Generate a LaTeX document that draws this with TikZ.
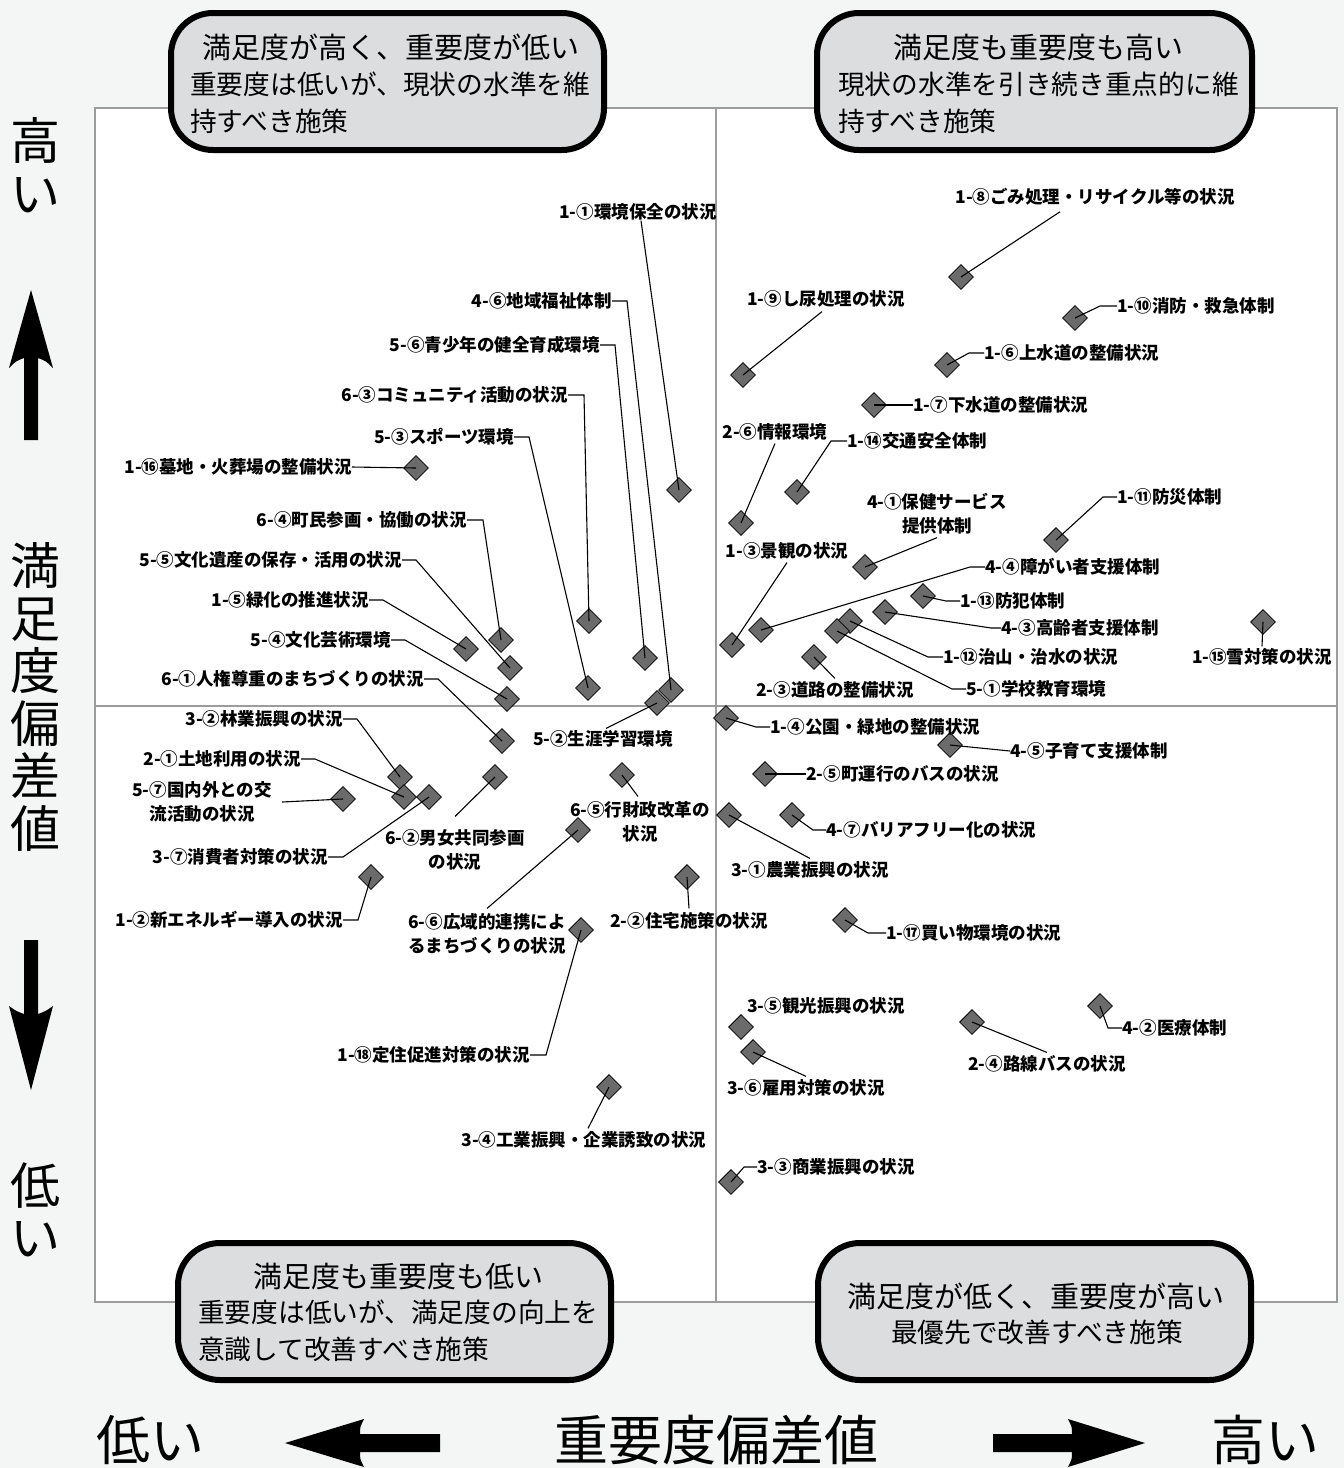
\documentclass[tikz,border=0pt]{standalone}
\usepackage{fontspec}
\setmainfont{Noto Sans CJK JP}
\usetikzlibrary{shapes.geometric}
\definecolor{bgc}{HTML}{F4F5F5}
\definecolor{boxfill}{HTML}{DCDDDF}
\definecolor{dia}{HTML}{6B6B6B}
\definecolor{framec}{HTML}{9C9C9C}
\newcommand\labfont{\fontsize{17.5}{24}\selectfont\bfseries}
\newcommand\boxfontA{\fontsize{29}{37}\selectfont}
\newcommand\boxfontB{\fontsize{26.7}{37}\selectfont}
\newcommand\axfont{\fontsize{50}{52.5}\selectfont}
\newcommand\axfontb{\fontsize{54}{56}\selectfont}
\tikzset{
  pt/.style={shape=diamond, draw=black, line width=0.8pt, fill=dia, minimum width=25pt, minimum height=25pt, inner sep=0pt},
  lab/.style={inner sep=0pt, font=\labfont, align=center},
  lead/.style={draw=black, line width=1.1pt},
  callout/.style={draw=black, line width=6pt, fill=boxfill, rounded corners=42pt, inner sep=0pt},
  boxtxtA/.style={inner sep=0pt, font=\boxfontA},
  boxtxtB/.style={inner sep=0pt, font=\boxfontB},
  axv/.style={inner sep=0pt, font=\axfont, align=center},
  axh/.style={inner sep=0pt, font=\axfontb},
}
\begin{document}
\begin{tikzpicture}[x=1pt,y=-1pt]
\useasboundingbox (0,0) rectangle (1344,1468);
\fill[bgc] (0,0) rectangle (1344,1468);
% plot area
\draw[framec, line width=1.5pt, fill=white] (95,108) rectangle (1337,1302);
\coordinate (vt) at (716,108);
\coordinate (vb) at (716,1302);
\coordinate (hl) at (95,706);
\coordinate (hr) at (1337,706);
\draw[framec, line width=1.5pt] (vt) -- (vb);
\draw[framec, line width=1.5pt] (hl) -- (hr);

% ---------- diamonds ----------
\node[pt] (d1) at (679,490) {};
\node[pt] (d2) at (671,690) {};
\node[pt] (d3) at (645,658) {};
\node[pt] (d4) at (589,621) {};
\node[pt] (d5) at (588,688) {};
\node[pt] (d6) at (416,468) {};
\node[pt] (d7) at (501,640) {};
\node[pt] (d8) at (510,668) {};
\node[pt] (d9) at (466,649) {};
\node[pt] (d10) at (507,699) {};
\node[pt] (d11) at (502,741) {};
\node[pt] (d12) at (657,703) {};
\node[pt] (d13) at (400,777) {};
\node[pt] (d14) at (404,797) {};
\node[pt] (d15) at (343,799) {};
\node[pt] (d16) at (429,797) {};
\node[pt] (d17) at (495,777) {};
\node[pt] (d18) at (371,877) {};
\node[pt] (d19) at (622,775) {};
\node[pt] (d20) at (578,830) {};
\node[pt] (d21) at (687,877) {};
\node[pt] (d22) at (581,930) {};
\node[pt] (d23) at (609,1087) {};
\node[pt] (d24) at (726,718) {};
\node[pt] (d25) at (950,745) {};
\node[pt] (d26) at (765,774) {};
\node[pt] (d27) at (792,815) {};
\node[pt] (d28) at (729,815) {};
\node[pt] (d29) at (845,920) {};
\node[pt] (d30) at (741,1027) {};
\node[pt] (d31) at (753,1052) {};
\node[pt] (d32) at (1100,1006) {};
\node[pt] (d33) at (972,1022) {};
\node[pt] (d34) at (731,1182) {};
\node[pt] (d35) at (961,277) {};
\node[pt] (d36) at (743,375) {};
\node[pt] (d37) at (1075,318) {};
\node[pt] (d38) at (947,365) {};
\node[pt] (d39) at (874,405) {};
\node[pt] (d40) at (741,523) {};
\node[pt] (d41) at (797,492) {};
\node[pt] (d42) at (865,567) {};
\node[pt] (d43) at (1056,540) {};
\node[pt] (d44) at (732,645) {};
\node[pt] (d45) at (761,630) {};
\node[pt] (d46) at (923,596) {};
\node[pt] (d47) at (885,612) {};
\node[pt] (d48) at (850,621) {};
\node[pt] (d49) at (837,631) {};
\node[pt] (d50) at (814,657) {};
\node[pt] (d51) at (1263,622) {};

% ---------- labels ----------
\node[lab] (l1) at (638,212) {1-①環境保全の状況};
\node[lab, anchor=east] (l2) at (612,301) {4-⑥地域福祉体制};
\node[lab, anchor=east] (l3) at (600,345) {5-⑥青少年の健全育成環境};
\node[lab, anchor=east] (l4) at (568,395) {6-③コミュニティ活動の状況};
\node[lab, anchor=east] (l5) at (514,437) {5-③スポーツ環境};
\node[lab, anchor=east] (l6) at (352,467) {1-⑯墓地・火葬場の整備状況};
\node[lab, anchor=east] (l7) at (467,520) {6-④町民参画・協働の状況};
\node[lab, anchor=east] (l8) at (402,560) {5-⑤文化遺産の保存・活用の状況};
\node[lab, anchor=east] (l9) at (369,600) {1-⑤緑化の推進状況};
\node[lab, anchor=east] (l10) at (391,640) {5-④文化芸術環境};
\node[lab, anchor=east] (l11) at (424,679) {6-①人権尊重のまちづくりの状況};
\node[lab] (l12) at (603,739) {5-②生涯学習環境};
\node[lab, anchor=east] (l13) at (343,719) {3-②林業振興の状況};
\node[lab, anchor=east] (l14) at (301,759) {2-①土地利用の状況};
\node[lab] (l15) at (202,802) {5-⑦国内外との交\\流活動の状況};
\node[lab, anchor=east] (l16) at (328,857) {3-⑦消費者対策の状況};
\node[lab] (l17) at (455,850) {6-②男女共同参画\\の状況};
\node[lab, anchor=east] (l18) at (343,920) {1-②新エネルギー導入の状況};
\node[lab] (l19) at (640,822) {6-⑤行財政改革の\\状況};
\node[lab] (l20) at (487,934) {6-⑥広域的連携によ\\るまちづくりの状況};
\node[lab] (l21) at (689,921) {2-②住宅施策の状況};
\node[lab, anchor=east] (l22) at (530,1055) {1-⑱定住促進対策の状況};
\node[lab] (l23) at (584,1140) {3-④工業振興・企業誘致の状況};
\node[lab, anchor=west] (l24) at (770,727) {1-④公園・緑地の整備状況};
\node[lab, anchor=west] (l25) at (1010,751) {4-⑤子育て支援体制};
\node[lab, anchor=west] (l26) at (806,774) {2-⑤町運行のバスの状況};
\node[lab, anchor=west] (l27) at (826,830) {4-⑦バリアフリー化の状況};
\node[lab] (l28) at (810,870) {3-①農業振興の状況};
\node[lab, anchor=west] (l29) at (886,933) {1-⑰買い物環境の状況};
\node[lab] (l30) at (826,1006) {3-⑤観光振興の状況};
\node[lab] (l31) at (806,1088) {3-⑥雇用対策の状況};
\node[lab, anchor=west] (l32) at (1122,1028) {4-②医療体制};
\node[lab] (l33) at (1047,1064) {2-④路線バスの状況};
\node[lab, anchor=west] (l34) at (757,1167) {3-③商業振興の状況};
\node[lab] (l35) at (1095,197) {1-⑧ごみ処理・リサイクル等の状況};
\node[lab] (l36) at (826,299) {1-⑨し尿処理の状況};
\node[lab, anchor=west] (l37) at (1117,306) {1-⑩消防・救急体制};
\node[lab, anchor=west] (l38) at (984,353) {1-⑥上水道の整備状況};
\node[lab, anchor=west] (l39) at (913,405) {1-⑦下水道の整備状況};
\node[lab] (l40) at (775,432) {2-⑥情報環境};
\node[lab, anchor=west] (l41) at (847,441) {1-⑭交通安全体制};
\node[lab] (l42) at (937,514) {4-①保健サービス\\提供体制};
\node[lab, anchor=west] (l43) at (1117,497) {1-⑪防災体制};
\node[lab] (l44) at (787,551) {1-③景観の状況};
\node[lab, anchor=west] (l45) at (985,567) {4-④障がい者支援体制};
\node[lab, anchor=west] (l46) at (960,601) {1-⑬防犯体制};
\node[lab, anchor=west] (l47) at (1001,628) {4-③高齢者支援体制};
\node[lab, anchor=west] (l48) at (943,657) {1-⑫治山・治水の状況};
\node[lab, anchor=west] (l49) at (966,689) {5-①学校教育環境};
\node[lab] (l50) at (835,690) {2-③道路の整備状況};
\node[lab] (l51) at (1262,657) {1-⑮雪対策の状況};

% ---------- leaders ----------
\draw[lead] ([xshift=3pt]l1.south) -- (d1.center);
\draw[lead] (l2.east) -- ++(15,0) -- (d2.center);
\draw[lead] (l3.east) -- ++(15,0) -- (d3.center);
\draw[lead] (l4.east) -- ++(16,0) -- (d4.center);
\draw[lead] (l5.east) -- ++(15,0) -- (d5.center);
\draw[lead] (l6.east) -- (d6.center);
\draw[lead] (l7.east) -- ++(16,0) -- (d7.center);
\draw[lead] (l8.east) -- ++(14,0) -- (d8.center);
\draw[lead] (l9.east) -- ++(14,0) -- (d9.center);
\draw[lead] (l10.east) -- ++(14,0) -- (d10.center);
\draw[lead] (l11.east) -- ++(14,0) -- (d11.center);
\draw[lead] ([xshift=3pt,yshift=2pt]l12.north) -- (d12.center);
\draw[lead] (l13.east) -- ++(14,0) -- (d13.center);
\draw[lead] (l14.east) -- ++(14,0) -- (d14.center);
\draw[lead] ([xshift=10pt]l15.east) -- (d15.center);
\draw[lead] (l16.east) -- ++(15,0) -- (d16.center);
\draw[lead] ([yshift=13pt]l17.north) -- (d17.center);
\draw[lead] (l18.east) -- ++(15,0) -- (d18.center);
\draw[lead] ([xshift=-2pt,yshift=5pt]l19.north) -- (d19.center);
\draw[lead] ([yshift=5pt]l20.north) -- (d20.center);
\draw[lead] ([yshift=4pt]l21.north) -- (d21.center);
\draw[lead] (l22.east) -- ++(16,0) -- (d22.center);
\draw[lead] ([xshift=4pt,yshift=3pt]l23.north) -- (d23.center);
\draw[lead] (d24.center) -- ([xshift=-14pt]l24.west) -- (l24.west);
\draw[lead] (d25.center) -- (l25.west);
\draw[lead] (d26.center) -- (l26.west);
\draw[lead] (d27.center) -- ([xshift=-13pt]l27.west) -- (l27.west);
\draw[lead] (d28.center) -- ([yshift=3pt]l28.north);
\draw[lead] (d29.center) -- ([xshift=-18pt]l29.west) -- (l29.west);
\draw[lead] (d31.center) -- ([yshift=3pt]l31.north);
\draw[lead] (d32.center) -- ([xshift=-14pt]l32.west) -- (l32.west);
\draw[lead] (d33.center) -- ([yshift=3pt]l33.north);
\draw[lead] (d34.center) -- ([xshift=-13pt]l34.west) -- (l34.west);
\draw[lead] ([xshift=-35pt,yshift=-6pt]l35.south) -- (d35.center);
\draw[lead] ([xshift=-4pt,yshift=-4pt]l36.south) -- (d36.center);
\draw[lead] (d37.center) -- ([xshift=-17pt]l37.west) -- (l37.west);
\draw[lead] (d38.center) -- ([xshift=-15pt]l38.west) -- (l38.west);
\draw[lead] (d39.center) -- (l39.west);
\draw[lead] ([yshift=-3pt]l40.south) -- (d40.center);
\draw[lead] (d41.center) -- ([xshift=-16pt]l41.west) -- (l41.west);
\draw[lead] ([yshift=-3pt]l42.south) -- (d42.center);
\draw[lead] (d43.center) -- ([xshift=-14pt]l43.west) -- (l43.west);
\draw[lead] ([yshift=-3pt]l44.south) -- (d44.center);
\draw[lead] (d45.center) -- ([xshift=-15pt]l45.west) -- (l45.west);
\draw[lead] (d46.center) -- ([xshift=-14pt]l46.west) -- (l46.west);
\draw[lead] (d47.center) -- ([xshift=-10pt]l47.west) -- (l47.west);
\draw[lead] (d48.center) -- ([xshift=-15pt]l48.west) -- (l48.west);
\draw[lead] (d49.center) -- ([xshift=-14pt]l49.west) -- (l49.west);
\draw[lead] (d50.center) -- ([yshift=3pt]l50.north);
\draw[lead] (d51.center) -- ([yshift=2pt]l51.north);

% ---------- callout boxes ----------
\node[callout, minimum width=433pt, minimum height=137pt] (tl) at (387.5,81.5) {};
\node[boxtxtA] (tl1) at (391,47) {満足度が高く、重要度が低い};
\node[boxtxtB, anchor=west] (tl2) at (190,84) {重要度は低いが、現状の水準を維};
\node[boxtxtB, anchor=west] (tl3) at (190,121) {持すべき施策};

\node[callout, minimum width=435pt, minimum height=137pt] (tr) at (1034.5,81.5) {};
\node[boxtxtA] (tr1) at (1038,47) {満足度も重要度も高い};
\node[boxtxtB, anchor=west] (tr2) at (838,84) {現状の水準を引き続き重点的に維};
\node[boxtxtB, anchor=west] (tr3) at (838,121) {持すべき施策};

\node[callout, minimum width=433pt, minimum height=137pt] (bl) at (394.5,1311.5) {};
\node[boxtxtA] (bl1) at (398,1276) {満足度も重要度も低い};
\node[boxtxtB, anchor=west] (bl2) at (198,1312) {重要度は低いが、満足度の向上を};
\node[boxtxtB, anchor=west] (bl3) at (198,1349) {意識して改善すべき施策};

\node[callout, minimum width=433pt, minimum height=137pt] (br) at (1034.5,1311.5) {};
\node[boxtxtA] (br1) at (1036,1296) {満足度が低く、重要度が高い};
\node[boxtxtB] (br2) at (1037,1332) {最優先で改善すべき施策};

% ---------- axis labels ----------
\node[axv] (yhi) at (35,165) {高\\い};
\node[axv] (ymid) at (35,697) {満\\足\\度\\偏\\差\\値};
\node[axv] (ylo) at (35,1210) {低\\い};
\fill[black] (31,290) -- (53,368) .. controls (46,361) .. (38,358) -- (38,440) -- (24,440) -- (24,358) .. controls (16,361) .. (9,368) -- cycle;
\fill[black] (24,940) -- (38,940) -- (38,1014) .. controls (46,1011) .. (53,1006) -- (31,1090) -- (9,1006) .. controls (16,1011) .. (24,1014) -- cycle;

\node[axh] (xlo) at (150,1440) {低い};
\node[axh] (xmid) at (716,1440) {重要度偏差値};
\node[axh] (xhi) at (1265,1440) {高い};
\fill[black] (285,1443) -- (364,1419) .. controls (360,1427) .. (360,1434) -- (440,1434) -- (440,1452) -- (360,1452) .. controls (360,1459) .. (364,1467) -- cycle;
\fill[black] (1145,1443) -- (1068,1419) .. controls (1072,1427) .. (1072,1434) -- (993,1434) -- (993,1452) -- (1072,1452) .. controls (1072,1459) .. (1068,1467) -- cycle;
\end{tikzpicture}
\end{document}
